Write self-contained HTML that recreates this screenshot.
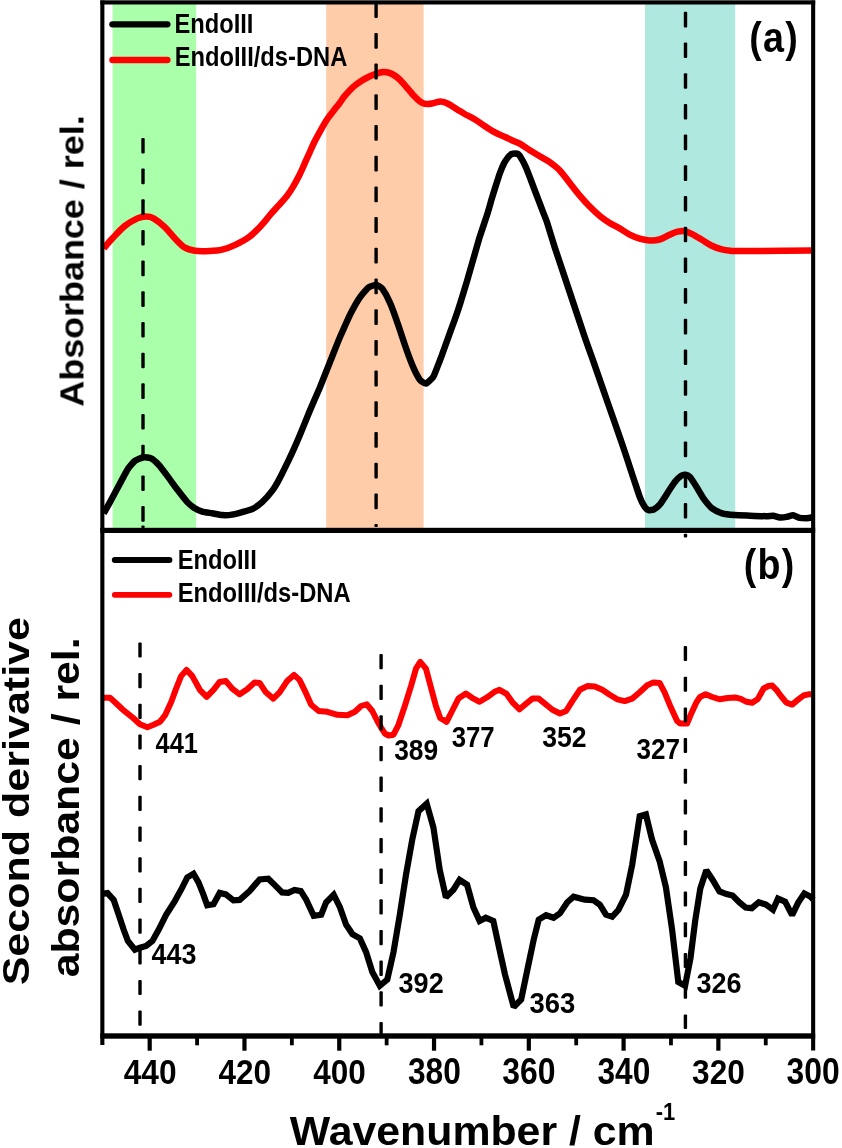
<!DOCTYPE html>
<html><head><meta charset="utf-8"><title>Figure</title>
<style>
html,body{margin:0;padding:0;background:#fff;}
body{width:842px;height:1148px;overflow:hidden;font-family:"Liberation Sans",sans-serif;}
svg text{font-family:"Liberation Sans",sans-serif;}
</style></head><body>
<svg width="842" height="1148" viewBox="0 0 842 1148" style="display:block"><rect width="842" height="1148" fill="#fff"/><rect x="112.6" y="3" width="83.5" height="526" fill="#aaffaa"/><rect x="326.2" y="3" width="97.4" height="526" fill="#ffccaa"/><rect x="645" y="3" width="90.2" height="526" fill="#aee8df"/><path d="M103.7,513.3 C104.2,512.4 108.6,504.6 110.0,502.1 C111.4,499.6 118.5,486.1 120.0,483.4 C121.5,480.7 126.2,471.6 127.4,469.7 C128.6,467.8 133.6,461.9 134.9,460.9 C136.2,459.9 142.2,457.4 143.6,457.2 C144.9,457.0 149.8,457.8 151.1,458.4 C152.3,459.0 157.2,463.2 158.6,464.7 C159.9,466.2 165.7,473.8 167.3,475.9 C168.9,478.0 175.6,487.4 177.3,489.6 C179.0,491.8 185.8,500.5 187.3,502.1 C188.8,503.7 193.6,507.5 194.8,508.3 C196.1,509.1 200.9,511.2 202.3,511.6 C203.8,512.0 210.5,513.0 212.2,513.3 C213.9,513.6 220.5,515.0 222.2,515.1 C223.9,515.2 230.5,514.9 232.2,514.6 C233.9,514.4 240.5,512.6 242.2,512.1 C243.9,511.6 250.4,509.9 252.1,509.1 C253.8,508.3 260.4,503.6 262.1,502.1 C263.8,500.6 270.6,492.9 272.1,490.9 C273.6,488.9 278.2,481.1 279.6,478.4 C281.1,475.7 287.8,461.9 289.5,458.4 C291.2,454.9 297.8,440.0 299.5,436.0 C301.2,432.0 308.3,414.4 310.0,410.3 C311.7,406.2 318.3,391.2 320.0,387.2 C321.7,383.2 328.2,366.5 329.9,362.3 C331.6,358.1 338.2,341.2 339.9,337.3 C341.6,333.4 348.2,318.2 349.9,314.9 C351.6,311.6 358.3,299.7 359.9,297.4 C361.5,295.1 367.2,288.4 368.6,287.4 C370.0,286.4 375.0,284.8 376.1,284.9 C377.2,285.0 381.2,287.2 382.3,288.7 C383.4,290.2 388.6,299.6 389.8,302.4 C391.1,305.2 396.1,318.9 397.3,322.4 C398.6,325.9 403.6,341.3 404.8,344.8 C406.0,348.3 411.0,361.9 412.2,364.8 C413.4,367.7 418.6,378.1 419.7,379.7 C420.8,381.3 424.9,383.7 426.0,383.5 C427.1,383.3 432.4,378.1 433.3,376.8 C434.2,375.5 436.5,369.2 437.2,367.4 C437.9,365.6 441.1,357.3 442.0,354.8 C442.9,352.3 447.2,340.5 448.2,337.6 C449.2,334.7 453.4,323.3 454.5,320.3 C455.6,317.3 459.8,304.8 460.8,301.5 C461.8,298.2 466.0,284.6 467.0,281.1 C468.0,277.6 472.2,262.9 473.3,259.2 C474.4,255.5 478.5,240.9 479.6,237.2 C480.8,233.5 486.1,217.9 487.1,214.8 C488.1,211.7 490.7,202.3 491.4,199.9 C492.1,197.5 495.0,188.2 495.7,186.0 C496.4,183.8 499.2,175.0 499.9,173.1 C500.6,171.2 503.5,164.4 504.2,163.0 C504.9,161.6 507.9,157.4 508.5,156.6 C509.1,155.8 511.2,154.2 511.7,153.9 C512.2,153.7 514.4,153.6 514.9,153.6 C515.4,153.6 517.5,153.6 518.1,154.1 C518.7,154.6 521.2,158.1 521.8,159.2 C522.4,160.2 524.9,165.2 525.6,166.7 C526.3,168.2 529.2,175.6 529.9,177.4 C530.6,179.2 533.4,186.7 534.1,188.6 C534.8,190.5 537.7,198.0 538.4,199.9 C539.1,201.8 542.0,209.2 542.7,211.1 C543.4,213.0 546.0,219.3 547.0,222.3 C548.0,225.3 553.2,242.6 554.7,247.2 C556.2,251.8 563.0,272.1 564.7,277.1 C566.4,282.1 573.0,302.1 574.7,307.1 C576.4,312.1 583.2,332.7 584.7,337.0 C586.2,341.3 590.9,354.5 592.4,358.7 C593.9,362.9 600.7,382.6 602.4,387.4 C604.1,392.2 610.7,411.2 612.4,416.0 C614.1,420.8 620.7,439.8 622.4,444.7 C624.1,449.6 630.8,470.3 632.3,474.7 C633.8,479.1 638.8,494.4 639.8,497.1 C640.8,499.8 644.1,506.0 644.8,507.1 C645.5,508.2 647.8,509.9 648.5,510.1 C649.2,510.3 652.6,510.1 653.5,509.6 C654.4,509.1 658.7,506.0 659.8,504.6 C660.9,503.2 666.0,495.3 667.2,493.4 C668.4,491.5 673.6,483.6 674.7,482.1 C675.9,480.6 680.1,476.5 681.0,475.9 C681.9,475.3 684.8,474.6 685.5,474.7 C686.2,474.8 688.8,475.8 689.7,476.7 C690.6,477.6 694.8,484.1 695.9,485.9 C697.0,487.7 702.0,496.5 703.4,498.4 C704.8,500.3 710.5,507.1 712.1,508.3 C713.7,509.5 720.2,512.7 722.1,513.3 C724.0,513.9 732.3,514.9 734.6,515.1 C736.9,515.3 747.2,515.6 749.9,515.7 C752.6,515.8 764.6,516.2 766.5,516.2 C768.4,516.2 772.1,515.6 773.2,515.7 C774.3,515.8 778.7,517.3 779.8,517.4 C780.9,517.5 785.4,517.1 786.5,516.9 C787.6,516.7 792.0,515.2 793.1,515.3 C794.2,515.4 798.7,517.7 799.8,517.9 C800.9,518.1 805.3,518.2 806.4,518.2 C807.5,518.2 812.0,517.4 812.5,517.3" fill="none" stroke="#000" stroke-width="6.5" stroke-linejoin="round" stroke-linecap="butt"/><path d="M103.7,248.3 C105.2,246.6 109.0,242.0 112.5,238.3 C116.0,234.6 120.8,229.2 124.9,225.9 C129.1,222.6 133.9,220.0 137.4,218.4 C140.9,216.8 143.4,216.6 146.1,216.6 C148.8,216.6 150.5,216.7 153.6,218.4 C156.7,220.2 161.3,223.8 164.8,227.1 C168.3,230.4 171.5,234.9 174.8,238.3 C178.1,241.7 181.5,245.5 184.8,247.6 C188.1,249.7 190.7,250.2 194.8,250.8 C199.0,251.4 205.1,251.2 209.7,251.0 C214.3,250.8 218.0,250.6 222.2,249.6 C226.4,248.6 230.1,247.3 234.7,245.1 C239.3,242.9 245.0,240.0 249.6,236.6 C254.2,233.2 258.7,228.2 262.1,224.6 C265.5,221.0 267.3,218.2 270.0,215.0 C272.7,211.8 275.6,208.7 278.4,205.6 C281.2,202.5 284.3,199.3 286.7,196.2 C289.1,193.1 290.9,190.3 293.0,186.8 C295.1,183.3 297.4,179.1 299.3,175.3 C301.2,171.5 302.8,167.6 304.5,163.8 C306.2,160.0 307.9,156.1 309.7,152.3 C311.4,148.5 313.1,144.6 315.0,140.8 C316.9,137.0 319.1,133.0 321.2,129.3 C323.3,125.6 325.4,121.9 327.5,118.8 C329.6,115.7 331.8,113.1 333.8,110.5 C335.8,107.9 337.6,105.7 339.5,103.2 C341.4,100.7 342.7,98.3 345.0,95.6 C347.3,92.9 350.5,89.4 353.3,86.9 C356.1,84.4 358.8,82.6 361.6,80.8 C364.4,79.0 367.4,77.5 369.9,76.3 C372.4,75.1 374.4,74.3 376.6,73.6 C378.8,72.9 381.3,72.3 383.2,72.1 C385.1,71.9 386.5,72.1 388.2,72.5 C389.9,72.9 391.5,73.6 393.2,74.6 C394.9,75.6 396.5,76.8 398.2,78.3 C399.9,79.8 401.5,81.5 403.2,83.3 C404.9,85.1 406.5,87.2 408.2,89.1 C409.9,91.0 411.5,93.1 413.1,94.9 C414.8,96.7 416.4,98.5 418.1,99.9 C419.8,101.3 421.4,102.5 423.1,103.2 C424.8,103.9 426.4,104.0 428.1,104.0 C429.8,104.0 431.4,103.5 433.1,103.2 C434.8,102.9 436.7,102.2 438.1,101.9 C439.5,101.6 440.0,101.4 441.4,101.6 C442.8,101.8 444.7,102.2 446.4,102.9 C448.1,103.6 449.5,104.5 451.4,105.7 C453.3,106.9 455.8,108.5 458.0,109.9 C460.2,111.3 461.9,112.5 464.7,114.0 C467.5,115.5 471.3,117.2 474.6,119.2 C477.9,121.2 481.3,123.8 484.6,126.0 C487.9,128.2 491.2,130.4 494.5,132.2 C497.8,134.0 501.5,135.3 504.5,136.7 C507.5,138.1 509.7,139.3 512.3,140.5 C514.8,141.7 516.9,142.1 519.8,143.7 C522.7,145.3 526.5,148.1 529.8,150.2 C533.1,152.3 536.5,154.2 539.8,156.2 C543.1,158.2 546.5,159.7 549.8,162.1 C553.1,164.5 556.5,166.9 559.8,170.4 C563.1,173.9 566.5,178.8 569.8,183.0 C573.1,187.2 576.5,191.7 579.8,195.6 C583.1,199.5 586.4,203.2 589.7,206.6 C593.0,210.0 596.5,213.2 599.8,215.9 C603.1,218.6 606.4,220.8 609.7,222.9 C613.0,225.0 616.4,226.5 619.7,228.4 C623.0,230.3 626.4,232.9 629.7,234.6 C633.0,236.3 636.4,237.6 639.7,238.6 C643.0,239.6 646.3,240.2 649.6,240.4 C652.9,240.6 656.2,240.4 659.4,239.5 C662.6,238.6 666.0,236.3 669.0,235.0 C672.0,233.7 674.8,232.3 677.5,231.7 C680.2,231.1 682.5,230.8 685.0,231.2 C687.5,231.6 689.4,232.7 692.2,234.1 C695.0,235.5 698.7,237.9 701.9,239.8 C705.1,241.7 708.1,243.9 711.3,245.5 C714.4,247.1 717.6,248.2 720.8,249.1 C724.0,250.0 727.1,250.5 730.3,250.8 C733.5,251.1 731.1,251.0 739.8,251.0 C748.5,251.0 770.4,250.9 782.5,250.8 C794.6,250.7 807.2,250.6 812.2,250.5" fill="none" stroke="#ff0000" stroke-width="6.5" stroke-linejoin="round" stroke-linecap="butt"/><path d="M103.7,893.6 L107.5,893.1 L113.7,899.9 L118.7,914.8 L123.7,929.8 L127.9,941.0 L134.9,949.7 L139.9,947.7 L146.1,946.0 L152.4,941.0 L158.6,929.8 L166.1,914.8 L174.8,901.1 L182.3,887.4 L187.3,877.4 L193.5,873.7 L198.5,882.4 L203.5,894.9 L207.2,905.3 L213.5,904.3 L219.7,892.9 L225.9,894.4 L233.4,900.4 L239.7,899.9 L249.6,891.1 L259.6,879.4 L268.3,878.7 L274.6,884.9 L282.1,892.4 L288.3,892.9 L294.5,889.9 L300.8,891.1 L306.2,899.7 L313.7,915.9 L321.2,914.7 L326.2,902.2 L333.7,894.7 L339.9,907.2 L346.1,924.7 L352.4,934.1 L359.9,938.4 L366.1,952.1 L372.3,972.0 L379.8,985.8 L387.3,979.5 L393.5,952.1 L399.8,914.7 L406.0,874.8 L412.2,839.9 L418.5,811.2 L426.7,803.7 L433.4,827.4 L439.7,869.8 L445.9,897.2 L453.4,889.7 L459.6,879.8 L467.1,884.8 L473.3,907.2 L479.6,920.9 L485.8,917.7 L493.3,920.9 L499.5,949.6 L505.0,974.5 L513.7,1007.0 L521.2,999.5 L527.4,969.5 L533.7,939.6 L538.7,919.7 L546.1,915.2 L553.6,917.7 L559.9,913.4 L567.3,902.2 L573.6,896.7 L584.8,899.7 L593.5,900.2 L599.8,904.7 L606.0,914.7 L612.2,916.7 L618.5,909.7 L626.0,894.7 L632.2,864.8 L639.7,816.2 L645.9,814.4 L652.1,839.9 L659.6,861.1 L665.9,887.2 L672.1,929.6 L678.3,982.0 L685.1,985.8 L690.5,958.0 L695.2,920.8 L700.3,888.5 L706.3,870.3 L712.4,879.4 L719.5,891.5 L726.5,894.1 L732.6,895.5 L739.7,902.6 L745.7,907.6 L751.8,908.2 L758.8,902.2 L765.9,904.6 L773.0,909.7 L778.0,898.6 L785.1,901.6 L792.1,915.1 L798.2,902.6 L804.3,893.5 L810.3,896.5 L813.3,899.6" fill="none" stroke="#000" stroke-width="6.2" stroke-linejoin="miter" stroke-miterlimit="2" stroke-linecap="butt"/><path d="M103.7,697.8 L110.0,697.8 L115.0,702.3 L122.4,709.3 L132.4,717.3 L139.9,724.3 L147.4,727.2 L153.6,724.8 L159.9,721.8 L165.3,714.8 L171.1,702.3 L176.1,688.6 L181.1,676.1 L186.5,669.9 L192.3,676.1 L199.8,689.8 L206.7,696.8 L213.5,689.8 L219.7,681.9 L225.9,681.1 L232.2,688.6 L239.7,694.3 L247.2,689.3 L254.6,682.4 L259.6,682.9 L265.9,692.3 L273.3,698.6 L279.6,692.3 L287.1,681.1 L294.0,674.9 L299.5,679.9 L305.0,691.1 L311.2,704.8 L318.7,711.0 L327.4,711.8 L337.4,714.8 L347.4,715.3 L354.9,711.8 L361.1,706.0 L366.8,704.3 L372.3,711.0 L378.6,723.5 L384.8,733.5 L388.5,735.5 L393.5,734.7 L398.5,724.8 L404.8,706.0 L411.0,686.1 L416.0,668.6 L420.2,661.9 L425.9,668.6 L430.9,687.3 L435.9,706.0 L440.2,718.0 L446.6,721.8 L452.1,711.0 L458.4,698.6 L465.9,693.6 L472.1,697.8 L479.6,701.8 L487.1,697.3 L494.5,691.8 L499.5,689.8 L506.2,693.6 L512.5,702.3 L519.5,709.3 L526.2,703.6 L532.4,698.6 L538.7,698.6 L544.9,703.6 L552.4,709.8 L559.9,713.5 L566.1,711.0 L572.3,701.1 L579.8,689.8 L587.3,686.1 L594.8,686.6 L602.3,689.8 L609.7,694.8 L617.2,699.3 L624.7,701.1 L632.2,698.6 L639.7,692.3 L647.2,685.3 L653.4,682.4 L659.6,682.9 L664.6,692.3 L670.8,707.3 L677.1,721.0 L680.1,723.5 L687.1,723.5 L691.4,713.2 L696.2,702.7 L700.0,697.0 L705.7,694.2 L712.3,697.0 L719.9,699.3 L727.5,698.0 L735.1,697.4 L740.8,698.9 L746.5,701.8 L752.2,702.7 L757.9,698.9 L763.6,688.5 L768.4,686.0 L772.2,685.6 L776.9,690.4 L781.7,697.0 L786.4,702.7 L792.1,704.6 L797.8,699.9 L803.5,695.5 L809.2,694.2 L813.0,694.2" fill="none" stroke="#ff0000" stroke-width="6" stroke-linejoin="round" stroke-linecap="butt"/><rect x="141.30" y="137.9" width="3.4" height="15.6" rx="1" fill="#000"/><rect x="141.30" y="168.6" width="3.4" height="15.6" rx="1" fill="#000"/><rect x="141.30" y="199.3" width="3.4" height="15.6" rx="1" fill="#000"/><rect x="141.30" y="229.9" width="3.4" height="15.6" rx="1" fill="#000"/><rect x="141.30" y="260.6" width="3.4" height="15.6" rx="1" fill="#000"/><rect x="141.30" y="291.3" width="3.4" height="15.6" rx="1" fill="#000"/><rect x="141.30" y="322.0" width="3.4" height="15.6" rx="1" fill="#000"/><rect x="141.30" y="352.7" width="3.4" height="15.6" rx="1" fill="#000"/><rect x="141.30" y="383.3" width="3.4" height="15.6" rx="1" fill="#000"/><rect x="141.30" y="414.0" width="3.4" height="15.6" rx="1" fill="#000"/><rect x="141.30" y="444.7" width="3.4" height="15.6" rx="1" fill="#000"/><rect x="141.30" y="475.4" width="3.4" height="15.6" rx="1" fill="#000"/><rect x="141.30" y="506.1" width="3.4" height="15.6" rx="1" fill="#000"/><rect x="141.30" y="525.6" width="3.4" height="2.4" rx="1" fill="#000"/><rect x="374.40" y="4.0" width="3.4" height="14.0" rx="1" fill="#000"/><rect x="374.40" y="32.9" width="3.4" height="15.8" rx="1" fill="#000"/><rect x="374.40" y="63.6" width="3.4" height="15.8" rx="1" fill="#000"/><rect x="374.40" y="94.3" width="3.4" height="15.8" rx="1" fill="#000"/><rect x="374.40" y="125.0" width="3.4" height="15.8" rx="1" fill="#000"/><rect x="374.40" y="155.7" width="3.4" height="15.8" rx="1" fill="#000"/><rect x="374.40" y="186.4" width="3.4" height="15.8" rx="1" fill="#000"/><rect x="374.40" y="217.1" width="3.4" height="15.8" rx="1" fill="#000"/><rect x="374.40" y="247.8" width="3.4" height="15.8" rx="1" fill="#000"/><rect x="374.40" y="278.5" width="3.4" height="15.8" rx="1" fill="#000"/><rect x="374.40" y="309.2" width="3.4" height="15.8" rx="1" fill="#000"/><rect x="374.40" y="339.9" width="3.4" height="15.8" rx="1" fill="#000"/><rect x="374.40" y="370.6" width="3.4" height="15.8" rx="1" fill="#000"/><rect x="374.40" y="401.3" width="3.4" height="15.8" rx="1" fill="#000"/><rect x="374.40" y="432.0" width="3.4" height="15.8" rx="1" fill="#000"/><rect x="374.40" y="462.7" width="3.4" height="15.8" rx="1" fill="#000"/><rect x="374.40" y="493.4" width="3.4" height="15.8" rx="1" fill="#000"/><rect x="374.40" y="524.1" width="3.4" height="2.9" rx="1" fill="#000"/><rect x="683.80" y="11.8" width="3.4" height="15.6" rx="1" fill="#000"/><rect x="683.80" y="42.5" width="3.4" height="15.6" rx="1" fill="#000"/><rect x="683.80" y="73.2" width="3.4" height="15.6" rx="1" fill="#000"/><rect x="683.80" y="103.9" width="3.4" height="15.6" rx="1" fill="#000"/><rect x="683.80" y="134.6" width="3.4" height="15.6" rx="1" fill="#000"/><rect x="683.80" y="165.3" width="3.4" height="15.6" rx="1" fill="#000"/><rect x="683.80" y="196.0" width="3.4" height="15.6" rx="1" fill="#000"/><rect x="683.80" y="226.7" width="3.4" height="15.6" rx="1" fill="#000"/><rect x="683.80" y="257.4" width="3.4" height="15.6" rx="1" fill="#000"/><rect x="683.80" y="288.1" width="3.4" height="15.6" rx="1" fill="#000"/><rect x="683.80" y="318.8" width="3.4" height="15.6" rx="1" fill="#000"/><rect x="683.80" y="349.5" width="3.4" height="15.6" rx="1" fill="#000"/><rect x="683.80" y="380.2" width="3.4" height="15.6" rx="1" fill="#000"/><rect x="683.80" y="410.9" width="3.4" height="15.6" rx="1" fill="#000"/><rect x="683.80" y="441.6" width="3.4" height="15.6" rx="1" fill="#000"/><rect x="683.80" y="472.3" width="3.4" height="15.6" rx="1" fill="#000"/><rect x="683.80" y="503.0" width="3.4" height="15.6" rx="1" fill="#000"/><rect x="683.80" y="533.7" width="3.4" height="3.8" rx="1" fill="#000"/><rect x="138.30" y="642.4" width="3.4" height="15.2" rx="1" fill="#000"/><rect x="138.30" y="673.1" width="3.4" height="15.2" rx="1" fill="#000"/><rect x="138.30" y="703.8" width="3.4" height="15.2" rx="1" fill="#000"/><rect x="138.30" y="734.4" width="3.4" height="15.2" rx="1" fill="#000"/><rect x="138.30" y="765.1" width="3.4" height="15.2" rx="1" fill="#000"/><rect x="138.30" y="795.8" width="3.4" height="15.2" rx="1" fill="#000"/><rect x="138.30" y="826.5" width="3.4" height="15.2" rx="1" fill="#000"/><rect x="138.30" y="857.2" width="3.4" height="15.2" rx="1" fill="#000"/><rect x="138.30" y="887.8" width="3.4" height="15.2" rx="1" fill="#000"/><rect x="138.30" y="918.5" width="3.4" height="15.2" rx="1" fill="#000"/><rect x="138.30" y="949.2" width="3.4" height="15.2" rx="1" fill="#000"/><rect x="138.30" y="979.9" width="3.4" height="15.2" rx="1" fill="#000"/><rect x="138.30" y="1010.6" width="3.4" height="15.2" rx="1" fill="#000"/><rect x="379.40" y="654.0" width="3.4" height="15.3" rx="1" fill="#000"/><rect x="379.40" y="684.7" width="3.4" height="15.3" rx="1" fill="#000"/><rect x="379.40" y="715.3" width="3.4" height="15.3" rx="1" fill="#000"/><rect x="379.40" y="746.0" width="3.4" height="15.3" rx="1" fill="#000"/><rect x="379.40" y="776.6" width="3.4" height="15.3" rx="1" fill="#000"/><rect x="379.40" y="807.3" width="3.4" height="15.3" rx="1" fill="#000"/><rect x="379.40" y="838.0" width="3.4" height="15.3" rx="1" fill="#000"/><rect x="379.40" y="868.6" width="3.4" height="15.3" rx="1" fill="#000"/><rect x="379.40" y="899.3" width="3.4" height="15.3" rx="1" fill="#000"/><rect x="379.40" y="929.9" width="3.4" height="15.3" rx="1" fill="#000"/><rect x="379.40" y="960.6" width="3.4" height="15.3" rx="1" fill="#000"/><rect x="379.40" y="991.3" width="3.4" height="15.3" rx="1" fill="#000"/><rect x="379.40" y="1021.9" width="3.4" height="12.1" rx="1" fill="#000"/><rect x="683.70" y="646.0" width="3.4" height="15.0" rx="1" fill="#000"/><rect x="683.70" y="676.7" width="3.4" height="15.0" rx="1" fill="#000"/><rect x="683.70" y="707.4" width="3.4" height="15.0" rx="1" fill="#000"/><rect x="683.70" y="738.1" width="3.4" height="15.0" rx="1" fill="#000"/><rect x="683.70" y="768.8" width="3.4" height="15.0" rx="1" fill="#000"/><rect x="683.70" y="799.5" width="3.4" height="15.0" rx="1" fill="#000"/><rect x="683.70" y="830.2" width="3.4" height="15.0" rx="1" fill="#000"/><rect x="683.70" y="860.9" width="3.4" height="15.0" rx="1" fill="#000"/><rect x="683.70" y="891.6" width="3.4" height="15.0" rx="1" fill="#000"/><rect x="683.70" y="922.3" width="3.4" height="15.0" rx="1" fill="#000"/><rect x="683.70" y="953.0" width="3.4" height="15.0" rx="1" fill="#000"/><rect x="683.70" y="983.7" width="3.4" height="15.0" rx="1" fill="#000"/><rect x="683.70" y="1014.4" width="3.4" height="14.6" rx="1" fill="#000"/><rect x="100.3" y="0.5" width="4.1" height="1044.5" fill="#000"/><rect x="811.1" y="0.5" width="4.1" height="1050" fill="#000"/><rect x="100.3" y="0.3" width="714.9" height="4.2" fill="#000"/><rect x="100.3" y="527.8" width="714.9" height="5.2" fill="#000"/><rect x="100.3" y="1033.3" width="714.9" height="5.4" fill="#000"/><rect x="147.59" y="1036" width="4.2" height="14.7" fill="#000"/><rect x="195.18" y="1036" width="3.8" height="9.3" fill="#000"/><rect x="242.37" y="1036" width="4.2" height="14.7" fill="#000"/><rect x="289.96" y="1036" width="3.8" height="9.3" fill="#000"/><rect x="337.15" y="1036" width="4.2" height="14.7" fill="#000"/><rect x="384.74" y="1036" width="3.8" height="9.3" fill="#000"/><rect x="431.93" y="1036" width="4.2" height="14.7" fill="#000"/><rect x="479.52" y="1036" width="3.8" height="9.3" fill="#000"/><rect x="526.71" y="1036" width="4.2" height="14.7" fill="#000"/><rect x="574.30" y="1036" width="3.8" height="9.3" fill="#000"/><rect x="621.49" y="1036" width="4.2" height="14.7" fill="#000"/><rect x="669.08" y="1036" width="3.8" height="9.3" fill="#000"/><rect x="716.27" y="1036" width="4.2" height="14.7" fill="#000"/><rect x="763.86" y="1036" width="3.8" height="9.3" fill="#000"/><line x1="112.4" y1="24.3" x2="167.4" y2="24.3" stroke="#000" stroke-width="6.3" stroke-linecap="round"/><line x1="112.4" y1="60.0" x2="167.4" y2="60.0" stroke="#ff0000" stroke-width="6.3" stroke-linecap="round"/><line x1="114.8" y1="560.0" x2="169.4" y2="560.0" stroke="#000" stroke-width="6.0" stroke-linecap="round"/><line x1="114.8" y1="594.8" x2="169.4" y2="594.8" stroke="#ff0000" stroke-width="5.8" stroke-linecap="round"/><g opacity="0.999"><text transform="translate(174.42,32.60) scale(0.8470,1)" font-family="Liberation Sans, sans-serif" font-weight="bold" font-size="28.00" fill="#000">EndoIII</text><text transform="translate(174.70,65.80) scale(0.8474,1)" font-family="Liberation Sans, sans-serif" font-weight="bold" font-size="28.00" fill="#000">EndoIII/ds-DNA</text><text transform="translate(177.67,569.10) scale(0.8485,1)" font-family="Liberation Sans, sans-serif" font-weight="bold" font-size="28.00" fill="#000">EndoIII</text><text transform="translate(177.67,602.10) scale(0.8494,1)" font-family="Liberation Sans, sans-serif" font-weight="bold" font-size="28.00" fill="#000">EndoIII/ds-DNA</text><text transform="translate(749.19,52.40) scale(0.8706,1)" font-family="Liberation Sans, sans-serif" font-weight="bold" font-size="43.30" letter-spacing="1.40" fill="#000">(a)</text><text transform="translate(743.81,579.40) scale(0.8684,1)" font-family="Liberation Sans, sans-serif" font-weight="bold" font-size="43.30" letter-spacing="1.40" fill="#000">(b)</text><text transform="translate(155.51,752.90) scale(0.8602,1)" font-family="Liberation Sans, sans-serif" font-weight="bold" font-size="29.60" fill="#000">441</text><text transform="translate(394.18,760.40) scale(0.8912,1)" font-family="Liberation Sans, sans-serif" font-weight="bold" font-size="29.60" fill="#000">389</text><text transform="translate(451.63,747.40) scale(0.8712,1)" font-family="Liberation Sans, sans-serif" font-weight="bold" font-size="29.60" fill="#000">377</text><text transform="translate(542.28,747.40) scale(0.8986,1)" font-family="Liberation Sans, sans-serif" font-weight="bold" font-size="29.60" fill="#000">352</text><text transform="translate(636.48,758.80) scale(0.8807,1)" font-family="Liberation Sans, sans-serif" font-weight="bold" font-size="29.60" fill="#000">327</text><text transform="translate(151.62,963.50) scale(0.9101,1)" font-family="Liberation Sans, sans-serif" font-weight="bold" font-size="29.60" fill="#000">443</text><text transform="translate(398.55,993.40) scale(0.9141,1)" font-family="Liberation Sans, sans-serif" font-weight="bold" font-size="29.60" fill="#000">392</text><text transform="translate(529.45,1013.40) scale(0.9285,1)" font-family="Liberation Sans, sans-serif" font-weight="bold" font-size="29.60" fill="#000">363</text><text transform="translate(696.55,992.80) scale(0.9120,1)" font-family="Liberation Sans, sans-serif" font-weight="bold" font-size="29.60" fill="#000">326</text><text transform="translate(123.72,1084.00) scale(0.8795,1)" font-family="Liberation Sans, sans-serif" font-weight="bold" font-size="36.00" fill="#000">440</text><text transform="translate(218.51,1084.00) scale(0.8758,1)" font-family="Liberation Sans, sans-serif" font-weight="bold" font-size="36.00" fill="#000">420</text><text transform="translate(313.26,1084.00) scale(0.8741,1)" font-family="Liberation Sans, sans-serif" font-weight="bold" font-size="36.00" fill="#000">400</text><text transform="translate(407.98,1084.00) scale(0.8810,1)" font-family="Liberation Sans, sans-serif" font-weight="bold" font-size="36.00" fill="#000">380</text><text transform="translate(502.35,1084.00) scale(0.8867,1)" font-family="Liberation Sans, sans-serif" font-weight="bold" font-size="36.00" fill="#000">360</text><text transform="translate(597.44,1084.00) scale(0.8793,1)" font-family="Liberation Sans, sans-serif" font-weight="bold" font-size="36.00" fill="#000">340</text><text transform="translate(692.09,1084.00) scale(0.8780,1)" font-family="Liberation Sans, sans-serif" font-weight="bold" font-size="36.00" fill="#000">320</text><text transform="translate(786.55,1084.00) scale(0.8844,1)" font-family="Liberation Sans, sans-serif" font-weight="bold" font-size="36.00" fill="#000">300</text><text transform="translate(289.82,1145.40) scale(1.0498,1)" font-family="Liberation Sans, sans-serif" font-weight="bold" font-size="40.80" fill="#000">Wavenumber / cm</text><text transform="translate(655.81,1120.00) scale(0.9550,1)" font-family="Liberation Sans, sans-serif" font-weight="bold" font-size="23.00" fill="#000">-1</text><text transform="translate(83.46,406.68) rotate(-90) scale(1.0822,1)" font-family="Liberation Sans, sans-serif" font-weight="bold" font-size="33.20" fill="#000">Absorbance / rel.</text><text transform="translate(29.26,985.36) rotate(-90) scale(1.1386,1)" font-family="Liberation Sans, sans-serif" font-weight="bold" font-size="37.80" fill="#000">Second derivative</text><text transform="translate(79.46,977.35) rotate(-90) scale(1.1259,1)" font-family="Liberation Sans, sans-serif" font-weight="bold" font-size="38.00" fill="#000">absorbance / rel.</text></g></svg>
</body></html>
